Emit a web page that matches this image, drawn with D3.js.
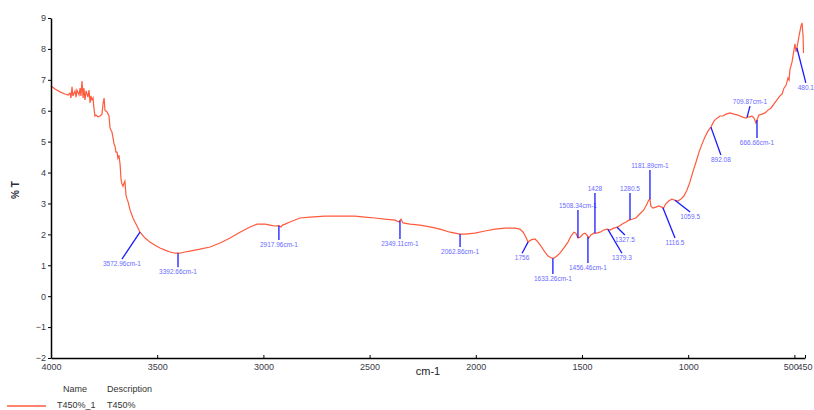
<!DOCTYPE html>
<html>
<head>
<meta charset="utf-8">
<script src="https://cdn.jsdelivr.net/npm/d3@7"></script>
<style>
  body { margin: 0; background: #fff; }
  text { font-family: "Liberation Sans", Arial, sans-serif; }
</style>
</head>
<body>
<svg id="chart" width="814" height="410"></svg>
<script>
// spectrum T450% : wavenumber (cm-1) and %T
var waveNum = [4000, 3981, 3958, 3934, 3920, 3911, 3906, 3901, 3897, 3887, 3882, 3878, 3868, 3863, 3859, 3854, 3849, 3845, 3840, 3835,
  3826, 3821, 3816, 3812, 3807, 3802, 3798, 3793, 3788, 3779, 3769, 3760, 3755, 3750, 3746, 3736, 3727, 3722, 3718, 3713,
  3708, 3703, 3699, 3694, 3689, 3685, 3680, 3675, 3670, 3666, 3661, 3656, 3652, 3647, 3642, 3637, 3628, 3614, 3605, 3595,
  3581, 3557, 3534, 3510, 3487, 3463, 3440, 3416, 3393, 3369, 3346, 3299, 3251, 3204, 3157, 3110, 3063, 3030, 2992, 2969,
  2945, 2927, 2917, 2910, 2898, 2875, 2828, 2781, 2710, 2639, 2569, 2522, 2475, 2428, 2380, 2362, 2352, 2343, 2310, 2263,
  2216, 2169, 2121, 2074, 2051, 2004, 1957, 1910, 1863, 1815, 1792, 1777, 1764, 1754, 1740, 1721, 1707, 1693, 1675, 1660,
  1641, 1632, 1618, 1604, 1585, 1566, 1552, 1538, 1529, 1519, 1509, 1495, 1486, 1477, 1468, 1458, 1444, 1430, 1415, 1397,
  1382, 1368, 1350, 1331, 1312, 1293, 1279, 1265, 1246, 1228, 1209, 1194, 1186, 1180, 1176, 1166, 1152, 1139, 1125, 1116,
  1106, 1092, 1077, 1064, 1048, 1034, 1020, 1006, 992, 978, 963, 949, 935, 921, 907, 893, 878, 864, 850, 836,
  822, 803, 784, 766, 747, 728, 719, 709, 700, 690, 681, 676, 667, 652, 638, 624, 610, 596, 582, 568,
  558, 549, 539, 530, 525, 521, 511, 502, 497, 492, 488, 478, 469, 464, 459, 457];
var transmit = [6.80, 6.70, 6.61, 6.54, 6.51, 6.57, 6.41, 6.77, 6.48, 6.64, 6.44, 6.67, 6.51, 6.73, 6.48, 6.96, 6.41, 6.73, 6.35, 6.64,
  6.44, 6.67, 6.25, 6.48, 6.35, 6.41, 6.09, 5.83, 5.86, 5.80, 5.83, 5.89, 6.22, 6.41, 6.02, 5.96, 5.83, 5.44, 5.38, 5.31,
  5.12, 4.92, 4.86, 4.66, 4.66, 4.47, 4.56, 4.28, 3.76, 3.63, 3.56, 3.66, 3.72, 3.27, 3.14, 3.05, 2.79, 2.53, 2.40, 2.27,
  2.07, 1.88, 1.75, 1.65, 1.56, 1.49, 1.43, 1.39, 1.39, 1.43, 1.46, 1.52, 1.59, 1.72, 1.88, 2.07, 2.24, 2.33, 2.33, 2.30,
  2.27, 2.28, 2.24, 2.30, 2.33, 2.40, 2.53, 2.56, 2.59, 2.59, 2.59, 2.56, 2.53, 2.49, 2.46, 2.40, 2.49, 2.37, 2.33, 2.30,
  2.24, 2.17, 2.07, 2.01, 2.01, 2.04, 2.11, 2.17, 2.20, 2.20, 2.17, 2.07, 1.91, 1.75, 1.82, 1.85, 1.75, 1.62, 1.43, 1.30,
  1.23, 1.23, 1.30, 1.39, 1.56, 1.75, 1.94, 2.07, 2.04, 1.88, 1.91, 2.01, 2.04, 1.98, 1.88, 1.98, 2.04, 2.04, 2.07, 2.14,
  2.17, 2.14, 2.20, 2.24, 2.33, 2.40, 2.46, 2.49, 2.53, 2.66, 2.79, 2.98, 3.11, 3.14, 2.92, 2.85, 2.88, 2.92, 2.88, 2.85,
  2.98, 3.08, 3.14, 3.11, 3.08, 3.14, 3.24, 3.43, 3.69, 4.02, 4.34, 4.66, 4.92, 5.15, 5.34, 5.47, 5.67, 5.76, 5.83, 5.83,
  5.89, 5.93, 5.89, 5.86, 5.80, 5.76, 5.80, 5.80, 5.83, 5.76, 5.60, 5.70, 5.86, 5.89, 5.93, 6.02, 6.09, 6.22, 6.35, 6.48,
  6.54, 6.73, 6.83, 7.06, 6.99, 7.32, 7.58, 7.96, 8.16, 7.90, 8.03, 8.42, 8.74, 8.84, 8.42, 7.87];

// peak labels: text, where the leader touches the curve, where it ends (cm-1, %T)
var peakText = ["3572.96cm-1", "3392.66cm-1", "2917.96cm-1", "2349.11cm-1", "2062.86cm-1", "1756", "1633.26cm-1",
  "1508.34cm-1", "1428", "1456.46cm-1", "1379.3", "1327.5", "1280.5", "1181.89cm-1", "1116.5", "1059.5",
  "892.08", "709.87cm-1", "666.66cm-1", "480.1"];
var peakAt = [3581, 3402, 2927, 2357, 2074, 1754, 1637, 1519, 1439, 1472, 1378, 1335, 1274, 1180, 1119, 1062, 893, 723, 676, 488];
var leaderX = [3666, 3402, 2927, 2357, 2074, 1782, 1637, 1519, 1439, 1472, 1312, 1298, 1274, 1180, 1062, 991, 846, 709, 676, 446];
var leaderY = [1.20, 0.94, 1.82, 1.85, 1.59, 1.39, 0.72, 2.79, 3.34, 1.07, 1.39, 1.98, 3.34, 4.08, 1.88, 2.72, 4.57, 6.15, 5.12, 6.90];
var labelUp = [false, false, false, false, false, false, false, true, true, false, false, false, true, true, false, false, false, true, false, false];

var xTicks = [4000, 3500, 3000, 2500, 2000, 1500, 1000, 500, 450];
var yTicks = [-2, -1, 0, 1, 2, 3, 4, 5, 6, 7, 8, 9];

const svg = d3.select("#chart");
const plotLeft = 51, plotRight = 805, plotTop = 18, plotBottom = 358;

const x = d3.scaleLinear().domain([4000, 450]).range([plotLeft, plotRight]);
const y = d3.scaleLinear().domain([-2, 9]).range([plotBottom, plotTop]);

// curve
const pts = waveNum.map((w, i) => [w, transmit[i]]);
svg.append("path")
  .datum(pts)
  .attr("fill", "none")
  .attr("stroke", "#ff5a3c")
  .attr("stroke-width", 1.2)
  .attr("d", d3.line().x(d => x(d[0])).y(d => y(d[1])));

// value on the curve at a wavenumber
function curveAt(w) {
  for (let i = 1; i < waveNum.length; i++) {
    if (waveNum[i] <= w) {
      const t = (w - waveNum[i - 1]) / (waveNum[i] - waveNum[i - 1]);
      return transmit[i - 1] + t * (transmit[i] - transmit[i - 1]);
    }
  }
  return transmit[transmit.length - 1];
}

// peak leaders and labels
const peaks = svg.append("g");
peakText.forEach((t, i) => {
  peaks.append("line")
    .attr("x1", x(peakAt[i]))
    .attr("y1", y(curveAt(peakAt[i])))
    .attr("x2", x(leaderX[i]))
    .attr("y2", y(leaderY[i]))
    .attr("stroke", "#1a1aff")
    .attr("stroke-width", 1.3);
  peaks.append("text")
    .text(t)
    .attr("x", x(leaderX[i]))
    .attr("y", y(leaderY[i]) + (labelUp[i] ? -4 : 5))
    .attr("text-anchor", "middle")
    .attr("dominant-baseline", "middle")
    .attr("font-size", "6.5px")
    .attr("fill", "#6a6aff");
});

// axes
const xAxis = svg.append("g")
  .attr("transform", "translate(0," + plotBottom + ")")
  .call(d3.axisBottom(x).tickValues(xTicks).tickSizeInner(-3).tickSizeOuter(0).tickPadding(6).tickFormat(d3.format("d")));
const yAxis = svg.append("g")
  .attr("transform", "translate(" + plotLeft + ",0)")
  .call(d3.axisLeft(y).tickValues(yTicks).tickSize(3).tickSizeOuter(0).tickPadding(2).tickFormat(d3.format("d")));

[xAxis, yAxis].forEach(g => {
  g.select(".domain").attr("stroke", "#000").attr("stroke-width", 1.5);
  g.selectAll(".tick line").attr("stroke", "#000");
  g.selectAll(".tick text").attr("font-size", "9px").attr("fill", "#3a3a48")
    .attr("font-family", "Liberation Sans, Arial, sans-serif");
});

// 500 and 450 labels run together as "500450" in the original
xAxis.selectAll(".tick text").filter(d => d === 500).attr("text-anchor", "end").attr("dx", "4px");
xAxis.selectAll(".tick text").filter(d => d === 450).attr("text-anchor", "end").attr("dx", "7px");

svg.append("text")
  .text("cm-1")
  .attr("x", (plotLeft + plotRight) / 2)
  .attr("y", 375)
  .attr("text-anchor", "middle")
  .attr("font-size", "11px")
  .attr("fill", "#222");

svg.append("text")
  .text("% T")
  .attr("transform", "translate(19,190) rotate(-90)")
  .attr("text-anchor", "middle")
  .attr("font-size", "10px")
  .attr("font-weight", "bold")
  .attr("fill", "#2a2a3a");

// legend
const legend = svg.append("g").attr("font-size", "9px").attr("fill", "#333");
legend.append("text").text("Name").attr("x", 63).attr("y", 392);
legend.append("text").text("Description").attr("x", 107).attr("y", 392);
legend.append("line")
  .attr("x1", 7).attr("x2", 46).attr("y1", 406).attr("y2", 406)
  .attr("stroke", "#ff5a3c").attr("stroke-width", 1.3);
legend.append("text").text("T450%_1").attr("x", 57).attr("y", 408);
legend.append("text").text("T450%").attr("x", 107).attr("y", 408);
</script>
</body>
</html>
